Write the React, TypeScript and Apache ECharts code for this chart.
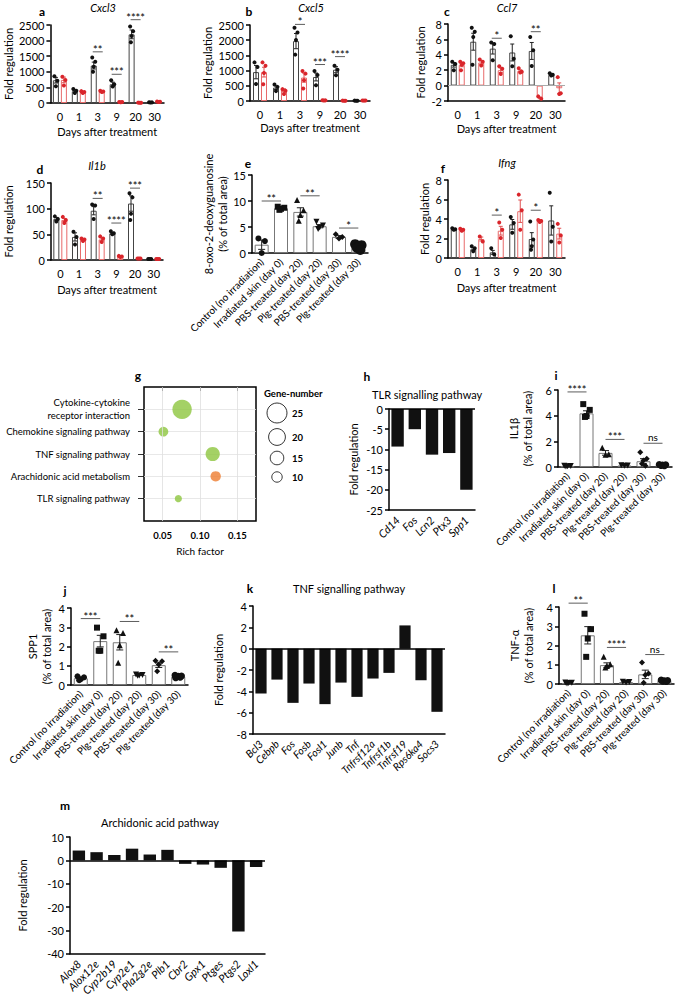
import React, { useEffect, useRef } from "react";
import * as echarts from "echarts";

const FONT = "Lato";
const DAYS = ["0", "1", "3", "9", "20", "30"];
const TREATMENTS = [
  "Control (no irradiation)",
  "Irradiated skin (day 0)",
  "PBS-treated (day 20)",
  "Plg-treated (day 20)",
  "PBS-treated (day 30)",
  "Plg-treated (day 30)",
];

// a Cxcl3
const A_PBS_MEAN = [730, 380, 1200, 600, 2200, 20];
const A_PBS_SEM = [90, 40, 110, 70, 140, 4];
const A_PBS_PTS = [[860, 710, 540], [450, 390, 320], [1460, 1320, 1160, 1000], [730, 600, 530], [2450, 2300, 2150, 1950], [25, 20, 15]];
const A_PLG_MEAN = [740, 350, 370, 30, 10, 40];
const A_PLG_SEM = [90, 25, 20, 5, 3, 6];
const A_PLG_PTS = [[840, 740, 560], [380, 350, 320], [390, 370, 350], [35, 30, 25], [12, 10, 8], [45, 40, 35]];
const A_SIG = [{ a: 2, b: 2, y: 1640, text: "**" }, { a: 3, b: 3, y: 920, text: "***" }, { a: 4, b: 4, y: 2670, text: "****" }];

// b Cxcl5
const B_PBS_MEAN = [950, 440, 1970, 790, 1030, 10];
const B_PBS_SEM = [220, 60, 250, 130, 100, 3];
const B_PBS_PTS = [[1270, 1120, 560], [540, 465, 325], [2410, 2250, 2010, 1525], [985, 855, 520], [1160, 1030, 845], [12, 10, 8]];
const B_PLG_MEAN = [950, 350, 770, 20, 10, 15];
const B_PLG_SEM = [160, 50, 150, 4, 3, 4];
const B_PLG_PTS = [[1270, 1160, 920, 550], [390, 335, 227], [985, 900, 680, 410], [22, 20, 18], [12, 10, 8], [18, 15, 12]];
const B_SIG = [{ a: 2, b: 2, y: 2520, text: "*" }, { a: 3, b: 3, y: 1200, text: "***" }, { a: 4, b: 4, y: 1460, text: "****" }];

// c Ccl7
const C_PBS_MEAN = [2.7, 5.7, 4.8, 4.3, 4.5, 1.4];
const C_PBS_SEM = [0.3, 1.1, 0.7, 1.1, 1.1, 0.1];
const C_PBS_PTS = [[3.1, 2.8, 2.0], [7.5, 7.0, 6.3, 2.7], [5.6, 5.4, 3.3], [6.4, 3.5, 2.5], [6.3, 4.6, 2.55], [1.6, 1.4, 1.3]];
const C_PLG_MEAN = [2.7, 3.0, 2.0, 1.9, -1.6, -0.35];
const C_PLG_SEM = [0.25, 0.25, 0.3, 0.15, 0.1, 0.7];
const C_PLG_PTS = [[3.1, 2.9, 2.7, 2.0], [3.4, 3.1, 2.6], [2.5, 2.2, 1.5], [2.25, 1.8, 1.7], [-1.4, -1.7], [1.1, -1.0, -1.1]];
const C_SIG = [{ a: 2, b: 2, y: 6.15, text: "*" }, { a: 4, b: 4, y: 7.0, text: "**" }];

// d Il1b
const D_PBS_MEAN = [80, 45, 96, 52, 110, 2];
const D_PBS_SEM = [3, 8, 8, 2, 15, 0.5];
const D_PBS_PTS = [[85, 80, 75], [55, 45, 30], [108, 106, 80], [56, 52, 50], [130, 122, 90, 78], [2, 2, 2]];
const D_PLG_MEAN = [78, 40, 40, 7, 3, 2];
const D_PLG_SEM = [3, 2, 3, 1, 0.5, 0.5];
const D_PLG_PTS = [[84, 78, 72], [42, 40, 37], [46, 42, 35], [8, 7, 6], [3, 3, 3], [2, 2, 2]];
const D_SIG = [{ a: 2, b: 2, y: 120, text: "**" }, { a: 3, b: 3, y: 72, text: "****" }, { a: 4, b: 4, y: 140, text: "***" }];

// e 8-oxo-2-deoxyguanosine
const E_MEAN = [1.6, 8.6, 7.9, 5.15, 3.1, 1.5];
const E_SD = [0.9, 0.15, 0.8, 0.3, 0.25, 0.2];
const E_PTS = [[2.8, 2.3, 0.0], [8.9, 8.7, 8.5, 8.3], [10.2, 8.2, 7.3, 6.2], [6.0, 5.3, 4.9, 4.6], [3.6, 3.1, 2.8], [1.7, 1.5, 1.3, 1.0, 0.6]];
const E_SIG = [{ a: 0, b: 1, y: 10.0, text: "**" }, { a: 2, b: 3, y: 11.0, text: "**" }, { a: 4, b: 5, y: 4.8, text: "*" }];

// f Ifng
const F_PBS_MEAN = [2.95, 0.9, 0.58, 3.45, 1.95, 3.85];
const F_PBS_SEM = [0.05, 0.15, 0.2, 0.5, 0.65, 1.5];
const F_PBS_PTS = [[3.05, 2.95, 2.9], [1.2, 1.0, 0.7], [1.0, 0.35], [4.2, 3.6, 2.6], [3.75, 1.9, 1.2, 0.85], [6.7, 3.2, 1.7]];
const F_PLG_MEAN = [2.9, 1.95, 2.8, 4.8, 3.85, 2.5];
const F_PLG_SEM = [0.05, 0.2, 0.45, 1.15, 0.08, 0.55];
const F_PLG_PTS = [[3.0, 2.9, 2.8], [2.2, 1.7], [3.65, 2.9, 2.05], [6.5, 4.9, 2.9], [3.9, 3.8, 3.7], [3.5, 2.3, 1.6]];
const F_SIG = [{ a: 2, b: 2, y: 4.4, text: "*" }, { a: 4, b: 4, y: 4.9, text: "*" }];

// g KEGG enrichment
const G_PATHWAYS = [
  "Cytokine-cytokine\nreceptor interaction",
  "Chemokine signaling pathway",
  "TNF signaling pathway",
  "Arachidonic acid metabolism",
  "TLR signaling pathway",
];
const G_RICH = [0.076, 0.051, 0.117, 0.121, 0.071];
const G_GENES = [24, 9, 16, 10, 5];
const G_COLORS = ["#8dc63f", "#8dc63f", "#8dc63f", "#ee7d31", "#8dc63f"];
const G_LEGEND = [25, 20, 15, 10];

// h TLR
const H_GENES = ["Cd14", "Fos", "Lcn2", "Ptx3", "Spp1"];
const H_FOLD = [-9.3, -5.0, -11.3, -10.9, -20.0];

// i IL1b
const I_MEAN = [0.05, 4.18, 1.1, 0.12, 0.45, 0.15];
const I_SD = [0.02, 0.2, 0.18, 0.02, 0.2, 0.03];
const I_PTS = [[0.1, 0.07, 0.05, 0.03], [4.9, 4.45, 3.97, 3.9], [1.5, 1.0, 0.95], [0.13, 0.12, 0.1], [1.15, 0.65, 0.5, 0.25, 0.1], [0.2, 0.18, 0.15, 0.12, 0.1]];
const I_SIG = [{ a: 0, b: 1, y: 5.85, text: "****" }, { a: 2, b: 3, y: 2.15, text: "***" }, { a: 4, b: 5, y: 1.85, text: "ns" }];

// j SPP1
const J_MEAN = [0.35, 2.28, 2.22, 0.52, 1.03, 0.43];
const J_SD = [0.05, 0.3, 0.4, 0.02, 0.12, 0.02];
const J_PTS = [[0.45, 0.4, 0.3, 0.25], [2.98, 2.53, 1.78, 1.78], [2.85, 2.7, 2.07, 1.15], [0.55, 0.52, 0.5, 0.48], [1.26, 1.24, 1.07, 0.72], [0.5, 0.47, 0.45, 0.42, 0.4, 0.38]];
const J_SIG = [{ a: 0, b: 1, y: 3.45, text: "***" }, { a: 2, b: 3, y: 3.3, text: "**" }, { a: 4, b: 5, y: 1.72, text: "**" }];

// k TNF
const K_GENES = ["Bcl3", "Cebpb", "Fos", "Fosb", "Fosl1", "Junb", "Tnf", "Tnfrsf12a", "Tnfrsf1b", "Tnfrsf19", "Rps6ka4", "Socs3"];
const K_FOLD = [-4.2, -2.9, -5.08, -3.27, -5.2, -3.18, -4.52, -2.8, -2.27, 2.18, -2.96, -5.92];

// l TNF-a
const L_MEAN = [0.05, 2.53, 0.98, 0.1, 0.5, 0.17];
const L_SD = [0.02, 0.45, 0.12, 0.02, 0.22, 0.03];
const L_PTS = [[0.08, 0.06, 0.05, 0.03], [3.65, 2.85, 2.36, 1.41], [1.41, 1.03, 0.93, 0.86], [0.12, 0.1, 0.08], [1.12, 0.55, 0.47, 0.07], [0.2, 0.18, 0.17, 0.15, 0.13]];
const L_SIG = [{ a: 0, b: 1, y: 4.2, text: "**" }, { a: 2, b: 3, y: 1.9, text: "****" }, { a: 4, b: 5, y: 1.53, text: "ns" }];

// m Arachidonic
const M_GENES = ["Alox8", "Alox12e", "Cyp2b19", "Cyp2e1", "Pla2g2e", "Plb1", "Cbr2", "Gpx1", "Ptges", "Ptgs2", "Loxl1"];
const M_FOLD = [4.2, 3.5, 2.3, 5.0, 2.5, 4.5, -1.5, -1.8, -3.2, -30.5, -2.8];

const TRI_DOWN = "path://M0,0L10,0L5,9Z";
const SYMS_TREAT = ["circle", "rect", "triangle", TRI_DOWN, "diamond", "circle"];
const JIT = [-2.5, 2.5, 0, -1.2, 1.5, -2];
const LS = { color: "#000", width: 1.5 };
const plain = (v: number) => String(v);

function buildOption() {
  const grids: any[] = [];
  const xAxes: any[] = [];
  const yAxes: any[] = [];
  const series: any[] = [];
  const graphics: any[] = [];

  const txt = (x: number, y: number, text: string, s: any = {}) => {
    graphics.push({
      type: "text", x, y, silent: true,
      style: { text, fontFamily: FONT, fontSize: 11, fill: "#000", align: "center", verticalAlign: "middle", ...s },
    });
  };

  function errSeries(xi: number, yi: number, mean: number[], sem: number[], off: number, color: string, cap: number) {
    series.push({
      type: "custom", xAxisIndex: xi, yAxisIndex: yi, z: 3, clip: false, silent: true,
      data: mean.map((m, i) => [i, m - sem[i], m + sem[i]]),
      encode: { x: 0, y: [1, 2] },
      renderItem: (_p: any, api: any) => {
        const c = api.value(0);
        const lo = api.coord([c, api.value(1)]);
        const hi = api.coord([c, api.value(2)]);
        const x = lo[0] + off;
        const st = { stroke: color, lineWidth: 1 };
        return {
          type: "group",
          children: [
            { type: "line", shape: { x1: x, y1: lo[1], x2: x, y2: hi[1] }, style: st },
            { type: "line", shape: { x1: x - cap, y1: hi[1], x2: x + cap, y2: hi[1] }, style: st },
            { type: "line", shape: { x1: x - cap, y1: lo[1], x2: x + cap, y2: lo[1] }, style: st },
          ],
        };
      },
    });
  }

  function sigSeries(xi: number, yi: number, sig: any[], pair: boolean) {
    series.push({
      type: "custom", xAxisIndex: xi, yAxisIndex: yi, z: 5, clip: false, silent: true,
      data: sig.map((s) => [s.a, s.b, s.y]),
      encode: { x: [0, 1], y: 2 },
      renderItem: (p: any, api: any) => {
        const s = sig[p.dataIndex];
        const p1 = api.coord([s.a, s.y]);
        const p2 = api.coord([s.b, s.y]);
        let x1 = p1[0], x2 = p2[0];
        if (pair) { x1 -= 5; x2 += 5; }
        const isNs = s.text === "ns";
        return {
          type: "group",
          children: [
            { type: "line", shape: { x1, y1: p1[1], x2, y2: p1[1] }, style: { stroke: "#333", lineWidth: 0.8 } },
            {
              type: "text",
              style: {
                text: s.text, x: (x1 + x2) / 2, y: p1[1] + (isNs ? -1 : 3),
                align: "center", verticalAlign: "bottom",
                fontSize: isNs ? 10 : 11, fontFamily: FONT, fill: "#000",
              },
            },
          ],
        };
      },
    });
  }

  function dotBar(o: any) {
    const gi = grids.length;
    grids.push({ left: o.left, top: o.top, width: o.width, height: o.height });
    const xi = xAxes.length, yi = yAxes.length;
    xAxes.push({
      type: "category", gridIndex: gi, data: o.cats,
      axisLine: { onZero: false, lineStyle: LS },
      axisTick: { alignWithLabel: true, length: 5, lineStyle: LS },
      axisLabel: o.rotate
        ? { rotate: 45, fontSize: 10, fontFamily: FONT, color: "#000", margin: 7, interval: 0 }
        : { fontSize: 11, fontFamily: FONT, color: "#000", margin: 8, interval: 0 },
      name: o.xName || "", nameLocation: "middle", nameGap: o.xNameGap || 22,
      nameTextStyle: { fontSize: 11, fontFamily: FONT, color: "#000" },
    });
    yAxes.push({
      type: "value", gridIndex: gi, min: o.yMin, max: o.yMax, interval: o.yInt,
      axisLine: { show: true, onZero: false, lineStyle: LS },
      axisTick: { show: true, length: 4, lineStyle: LS },
      axisLabel: { fontSize: 11, fontFamily: FONT, color: "#000", margin: 6, formatter: plain },
      splitLine: { show: false },
      name: o.yName, nameLocation: "middle", nameRotate: 90, nameGap: o.yNameGap,
      nameTextStyle: { fontSize: 11, fontFamily: FONT, color: "#000", lineHeight: 14 },
    });
    o.groups.forEach((g: any, gidx: number) => {
      const bar: any = {
        type: "bar", xAxisIndex: xi, yAxisIndex: yi, data: g.mean, barWidth: o.barWidth, barGap: o.barGap,
        itemStyle: { color: "#fff", borderColor: g.border, borderWidth: 1 }, z: 2, silent: true,
      };
      if (o.zeroLine && gidx === 0) {
        bar.markLine = {
          silent: true, symbol: "none", label: { show: false },
          lineStyle: { color: "#aaa", width: 1.2, type: "solid" }, data: [{ yAxis: 0 }],
        };
      }
      series.push(bar);
      errSeries(xi, yi, g.mean, g.sem, g.offset, g.errColor || g.border, o.cap);
      const data: any[] = [];
      g.pts.forEach((arr: number[], ci: number) => {
        arr.forEach((v, k) => {
          data.push({
            value: [ci, v],
            symbol: g.symbols ? g.symbols[ci] : "circle",
            symbolSize: g.sizes ? g.sizes[ci] : o.dotSize,
            symbolOffset: [g.offset + JIT[k % JIT.length] * (o.jitScale || 1), 0],
          });
        });
      });
      series.push({
        type: "scatter", xAxisIndex: xi, yAxisIndex: yi, data, z: 4, silent: true,
        itemStyle: { color: g.dot, opacity: 1 },
      });
    });
    sigSeries(xi, yi, o.sig, o.pair);
  }

  function foldPanel(o: any) {
    const gi = grids.length;
    grids.push({ left: o.left, top: o.top, width: o.width, height: o.height });
    const xi = xAxes.length, yi = yAxes.length;
    xAxes.push({
      type: "category", gridIndex: gi, data: o.cats,
      axisLine: { onZero: false, lineStyle: LS },
      axisTick: { alignWithLabel: true, length: 5, lineStyle: LS },
      axisLabel: { rotate: 45, fontSize: o.labelSize || 11, fontStyle: "italic", fontFamily: FONT, color: "#000", margin: 8, interval: 0 },
    });
    yAxes.push({
      type: "value", gridIndex: gi, min: o.yMin, max: o.yMax, interval: o.yInt,
      axisLine: { show: true, onZero: false, lineStyle: LS },
      axisTick: { show: true, length: 4, lineStyle: LS },
      axisLabel: { fontSize: 11, fontFamily: FONT, color: "#000", margin: 6, formatter: plain },
      splitLine: { show: false },
      name: "Fold regulation", nameLocation: "middle", nameRotate: 90, nameGap: o.yNameGap,
      nameTextStyle: { fontSize: 11, fontFamily: FONT, color: "#000" },
    });
    series.push({
      type: "bar", xAxisIndex: xi, yAxisIndex: yi, data: o.values, barWidth: o.barWidth, silent: true,
      itemStyle: { color: "#111" },
      markLine: {
        silent: true, symbol: "none", label: { show: false },
        lineStyle: { color: "#000", width: 1.5, type: "solid" }, data: [{ yAxis: 0 }],
      },
    });
  }

  const pairGroups = (pm: number[], ps: number[], pp: number[][], gm: number[], gs: number[], gp: number[][]) => [
    { mean: pm, sem: ps, pts: pp, border: "#444", errColor: "#222", dot: "#111", offset: -4 },
    { mean: gm, sem: gs, pts: gp, border: "#e86a6a", errColor: "#e05050", dot: "#d9252b", offset: 4 },
  ];
  const pairCommon = { cats: DAYS, barWidth: 6, barGap: "33%", cap: 2, dotSize: 4, jitScale: 0.6, pair: true, xName: "Days after treatment" };

  // a
  dotBar({ ...pairCommon, left: 46, top: 25, width: 118, height: 78, yMin: 0, yMax: 2500, yInt: 500, yName: "Fold regulation", yNameGap: 34, xNameGap: 23,
    groups: pairGroups(A_PBS_MEAN, A_PBS_SEM, A_PBS_PTS, A_PLG_MEAN, A_PLG_SEM, A_PLG_PTS), sig: A_SIG });
  // b
  dotBar({ ...pairCommon, left: 250, top: 25, width: 120, height: 76, yMin: 0, yMax: 2500, yInt: 500, yName: "Fold regulation", yNameGap: 32, xNameGap: 21,
    groups: pairGroups(B_PBS_MEAN, B_PBS_SEM, B_PBS_PTS, B_PLG_MEAN, B_PLG_SEM, B_PLG_PTS), sig: B_SIG });
  // c
  dotBar({ ...pairCommon, left: 448, top: 24, width: 117, height: 77, yMin: -2, yMax: 8, yInt: 2, yName: "Fold regulation", yNameGap: 12, xNameGap: 22, zeroLine: true,
    groups: pairGroups(C_PBS_MEAN, C_PBS_SEM, C_PBS_PTS, C_PLG_MEAN, C_PLG_SEM, C_PLG_PTS), sig: C_SIG });
  // d
  dotBar({ ...pairCommon, left: 50, top: 183, width: 113, height: 77, yMin: 0, yMax: 150, yInt: 50, yName: "Fold regulation", yNameGap: 36, xNameGap: 24,
    groups: pairGroups(D_PBS_MEAN, D_PBS_SEM, D_PBS_PTS, D_PLG_MEAN, D_PLG_SEM, D_PLG_PTS), sig: D_SIG });
  // f
  dotBar({ ...pairCommon, left: 448, top: 180, width: 117, height: 78, yMin: 0, yMax: 8, yInt: 2, yName: "Fold regulation", yNameGap: 15, xNameGap: 24,
    groups: pairGroups(F_PBS_MEAN, F_PBS_SEM, F_PBS_PTS, F_PLG_MEAN, F_PLG_SEM, F_PLG_PTS), sig: F_SIG });

  const singleCommon = { cats: TREATMENTS, rotate: true, barWidth: 14, cap: 3.5, dotSize: 6, jitScale: 1.3, pair: false };
  const single = (mean: number[], sd: number[], pts: number[][], sizes: number[], syms: string[]) => [
    { mean, sem: sd, pts, border: "#777", errColor: "#222", dot: "#111", offset: 0, symbols: syms, sizes },
  ];
  // e
  dotBar({ ...singleCommon, left: 252, top: 175, width: 116, height: 78, yMin: 0, yMax: 15, yInt: 5,
    yName: "8-oxo-2-deoxyguanosine\n(% of total area)", yNameGap: 20,
    groups: single(E_MEAN, E_SD, E_PTS, [6, 6, 6, 6, 6, 10], SYMS_TREAT), sig: E_SIG });
  // i
  dotBar({ ...singleCommon, left: 558, top: 390, width: 114, height: 77, yMin: 0, yMax: 6, yInt: 2,
    yName: "IL1β\n(% of total area)", yNameGap: 24,
    groups: single(I_MEAN, I_SD, I_PTS, [6, 6, 6, 6, 6, 7], [TRI_DOWN, "rect", "triangle", TRI_DOWN, "diamond", "circle"]), sig: I_SIG });
  // j
  dotBar({ ...singleCommon, left: 71, top: 608, width: 117, height: 77, yMin: 0, yMax: 4, yInt: 1,
    yName: "SPP1\n(% of total area)", yNameGap: 18,
    groups: single(J_MEAN, J_SD, J_PTS, [6, 6, 6, 6, 6, 7], SYMS_TREAT), sig: J_SIG });
  // l
  dotBar({ ...singleCommon, left: 559, top: 607, width: 115, height: 77, yMin: 0, yMax: 4, yInt: 1,
    yName: "TNF-α\n(% of total area)", yNameGap: 24,
    groups: single(L_MEAN, L_SD, L_PTS, [6, 6, 6, 6, 6, 7], [TRI_DOWN, "rect", "triangle", TRI_DOWN, "diamond", "circle"]), sig: L_SIG });

  // h, k, m
  foldPanel({ left: 389, top: 409, width: 86, height: 101, cats: H_GENES, values: H_FOLD, yMin: -25, yMax: 0, yInt: 5, yNameGap: 30, barWidth: "72%" });
  foldPanel({ left: 253, top: 606, width: 192, height: 128, cats: K_GENES, values: K_FOLD, yMin: -8, yMax: 4, yInt: 2, yNameGap: 29, barWidth: "70%", labelSize: 10.5 });
  foldPanel({ left: 70, top: 837, width: 195, height: 118, cats: M_GENES, values: M_FOLD, yMin: -40, yMax: 10, yInt: 10, yNameGap: 42, barWidth: "70%" });

  // g bubble
  {
    const gi = grids.length;
    grids.push({ left: 144, top: 387, width: 112, height: 134, show: true, borderColor: "#000", borderWidth: 1.5, backgroundColor: "transparent" });
    const xi = xAxes.length, yi = yAxes.length;
    xAxes.push({
      type: "value", gridIndex: gi, min: 0.025, max: 0.175,
      axisLine: { show: false }, splitLine: { show: false },
      axisTick: { show: true, customValues: [0.05, 0.1, 0.15], length: 4, lineStyle: { color: "#000", width: 1 } },
      axisLabel: { customValues: [0.05, 0.1, 0.15], formatter: (v: number) => v.toFixed(2), fontSize: 9.5, fontWeight: "bold", fontFamily: FONT, color: "#000", margin: 9 },
      name: "Rich factor", nameLocation: "middle", nameGap: 25,
      nameTextStyle: { fontSize: 10, fontFamily: FONT, color: "#000" },
    });
    yAxes.push({
      type: "value", gridIndex: gi, min: 0, max: 6, interval: 0.5, inverse: true,
      axisLine: { show: false },
      splitLine: { show: true, lineStyle: { color: "#e2e2e2", width: 0.8 } },
      axisTick: { show: true, customValues: [1, 2, 3, 4, 5], length: 6, inside: false, lineStyle: { color: "#000", width: 0.8 } },
      axisLabel: {
        customValues: [1, 2, 3, 4, 5], formatter: (v: number) => G_PATHWAYS[Math.round(v) - 1] || "",
        fontSize: 9.5, fontFamily: FONT, color: "#000", margin: 14, lineHeight: 13, align: "right",
      },
    });
    series.push({
      type: "scatter", xAxisIndex: xi, yAxisIndex: yi, silent: true, z: 4,
      data: G_RICH.map((r, i) => ({ value: [r, i + 1, G_GENES[i]], itemStyle: { color: G_COLORS[i] } })),
      symbolSize: (v: number[]) => 4 + 0.64 * v[2],
      markLine: {
        silent: true, symbol: "none", label: { show: false },
        lineStyle: { color: "#dedede", width: 0.8, type: "solid" },
        data: [{ xAxis: 0.05 }, { xAxis: 0.1 }, { xAxis: 0.15 }],
      },
    });
    txt(264, 393, "Gene-number", { align: "left", fontWeight: "bold", fontSize: 9.5 });
    const ly = [413, 437, 458, 477];
    G_LEGEND.forEach((n, i) => {
      graphics.push({
        type: "circle", x: 277, y: ly[i], silent: true,
        shape: { cx: 0, cy: 0, r: (4 + 0.64 * n) / 2 },
        style: { fill: "#fff", stroke: "#000", lineWidth: 0.8 },
      });
      txt(292, ly[i], String(n), { align: "left", fontWeight: "bold", fontSize: 9.5 });
    });
  }

  // panel letters
  const letter = (x: number, y: number, t: string) => txt(x, y, t, { fontWeight: "bold", fontSize: 12 });
  letter(42, 11, "a"); letter(249, 11, "b"); letter(447, 11, "c");
  letter(40, 169, "d"); letter(248, 163, "e"); letter(443, 168, "f");
  letter(138, 375, "g"); letter(367, 376, "h"); letter(556, 375, "i");
  letter(65, 590, "j"); letter(250, 588, "k"); letter(554, 588, "l"); letter(65, 805, "m");

  // titles
  const it = { fontStyle: "italic" };
  txt(103, 7, "Cxcl3", it); txt(311, 7, "Cxcl5", it); txt(507, 7, "Ccl7", it);
  txt(97, 165, "Il1b", it); txt(507, 162, "Ifng", it);
  txt(372, 394, "TLR signalling pathway", { align: "left" });
  txt(349, 588, "TNF signalling pathway");
  txt(160, 822, "Archidonic acid pathway");

  return {
    animation: false,
    backgroundColor: "#fff",
    textStyle: { fontFamily: FONT },
    grid: grids,
    xAxis: xAxes,
    yAxis: yAxes,
    series,
    graphic: graphics,
  };
}

export default function App() {
  const ref = useRef<HTMLDivElement>(null);
  useEffect(() => {
    const chart = echarts.init(ref.current!, null, { renderer: "svg" });
    chart.setOption(buildOption() as any);
    return () => chart.dispose();
  }, []);
  return <div ref={ref} style={{ position: "absolute", left: 0, top: 0, width: 676, height: 998, background: "#fff" }} />;
}
